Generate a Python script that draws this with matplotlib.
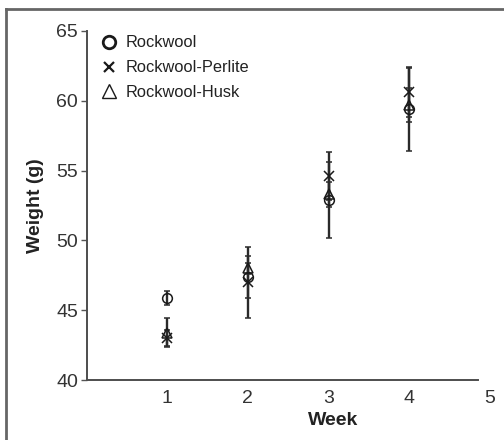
import matplotlib
matplotlib.use("Agg")
from matplotlib import pyplot as plt
from matplotlib.lines import Line2D

plt.rcParams['font.family'] = ['Liberation Sans', 'DejaVu Sans']

#------------------------------------------------------------------------
# Data
#------------------------------------------------------------------------

weeks = [1, 2, 3, 4]
series = ["Rockwool", "Rockwool-Perlite", "Rockwool-Husk"]

rockwool = [45.9, 47.4, 52.9, 59.4]
rockwool_err = [0.5, 1.5, 2.7, 3.0]

perlite = [43.0, 47.0, 54.6, 60.6]
perlite_err = [0.6, 2.55, 1.7, 1.75]

husk = [43.4, 48.0, 53.3, 59.7]
husk_err = [1.05, 0.4, 0.9, 1.2]

xticks = [1, 2, 3, 4, 5]
yticks = [40, 45, 50, 55, 60, 65]

#------------------------------------------------------------------------
# Plot
#------------------------------------------------------------------------

fig = plt.figure(figsize=(5.04, 4.4), dpi=100)
ax = fig.add_axes([86.5 / 504, 1 - 380 / 440, 403.5 / 504, 349 / 440])

ink = "#1a1a1a"
styles = [
    (rockwool, rockwool_err, "o", dict(markerfacecolor="none")),
    (perlite, perlite_err, "x", dict()),
    (husk, husk_err, "^", dict(markerfacecolor="none")),
]
for vals, errs, mk, kw in styles:
    ax.errorbar(weeks, vals, yerr=errs, fmt=mk, color=ink, ecolor="#2a2a2a",
                elinewidth=1.7, capsize=2.2, capthick=1.5, markersize=7,
                markeredgewidth=1.1, **kw)

ax.set_xlim(0, 5)
ax.set_ylim(40, 65)
ax.set_xticks(xticks)
ax.set_yticks(yticks)

for side in ["top", "right"]:
    ax.spines[side].set_visible(False)
for side in ["left", "bottom"]:
    ax.spines[side].set_color("#4d4d4d")
    ax.spines[side].set_linewidth(1.4)
ax.spines["bottom"].set_bounds(0, 4.85)

ax.tick_params(axis="x", length=0, pad=7, labelsize=14, labelcolor="#333333")
ax.tick_params(axis="y", length=4, width=1, color="#555555", pad=2,
               labelsize=14, labelcolor="#333333")

ax.set_xlabel("Week", fontsize=14, fontweight="bold", color="#222222")
ax.xaxis.set_label_coords(0.61, -0.093)
ax.set_ylabel("Weight (g)", fontsize=14, fontweight="bold", color="#222222")
ax.yaxis.set_label_coords(-0.105, 0.5)

handles = [
    Line2D([], [], marker="o", linestyle="none", color=ink, markerfacecolor="none",
           markersize=9, markeredgewidth=2),
    Line2D([], [], marker="x", linestyle="none", color=ink, markersize=7,
           markeredgewidth=1.6),
    Line2D([], [], marker="^", linestyle="none", color=ink, markerfacecolor="none",
           markersize=10, markeredgewidth=1),
]
ax.legend(handles, series, loc="upper left", bbox_to_anchor=(0.0075, 1.02),
          frameon=False, fontsize=11.8, handlelength=1.0, handletextpad=0.5,
          labelspacing=0.6, borderaxespad=0.3, labelcolor="#222222")

# outer frame of the original figure (only left and top edges visible)
fig.add_artist(Line2D([5.5 / 504, 5.5 / 504], [0, 1 - 9.5 / 440],
                      transform=fig.transFigure, color="#666666", linewidth=2))
fig.add_artist(Line2D([5.5 / 504, 1], [1 - 9.5 / 440, 1 - 9.5 / 440],
                      transform=fig.transFigure, color="#666666", linewidth=2))

fig.savefig("out.png", dpi=100)
